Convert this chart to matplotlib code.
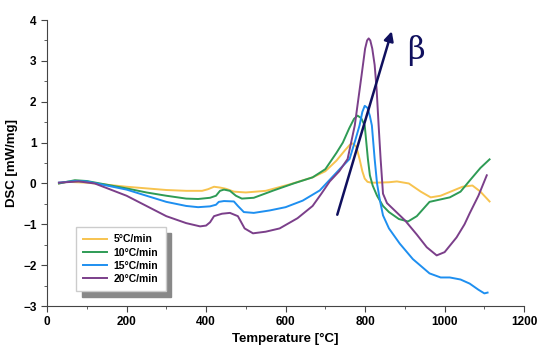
import matplotlib
matplotlib.use("Agg")
import matplotlib.pyplot as plt
from matplotlib.ticker import MultipleLocator

plt.rcParams["font.family"] = ["Liberation Sans", "DejaVu Sans"]

# heating rate series: temperature [°C] and DSC signal [mW/mg]
t5 = [30, 50, 100, 150, 200, 250, 300, 350, 390, 405, 420, 435, 450, 470, 500,
      550, 573, 611, 668, 700, 728, 750, 762, 769, 778, 786, 793, 799, 806,
      815, 830, 860, 880, 910, 940, 965, 990, 1020, 1045, 1070, 1090, 1113]
dsc5 = [0.0, 0.04, 0.02, -0.03, -0.08, -0.12, -0.16, -0.18, -0.18, -0.14, -0.08,
        -0.1, -0.13, -0.2, -0.22, -0.18, -0.12, -0.02, 0.15, 0.3, 0.56, 0.82,
        0.95, 0.98, 0.9, 0.6, 0.3, 0.12, 0.04, 0.02, 0.02, 0.03, 0.05, 0.0,
        -0.2, -0.34, -0.3, -0.18, -0.08, -0.05, -0.2, -0.44]

t10 = [30, 70, 100, 150, 200, 250, 300, 350, 380, 410, 425, 435, 445, 460,
       475, 490, 520, 570, 620, 668, 700, 728, 744, 760, 772, 781, 790, 799,
       807, 812, 819, 830, 845, 860, 885, 908, 930, 962, 1013, 1040, 1063,
       1090, 1113]
dsc10 = [0.0, 0.08, 0.06, -0.03, -0.12, -0.22, -0.3, -0.37, -0.38, -0.35, -0.3,
         -0.18, -0.15, -0.18, -0.3, -0.37, -0.35, -0.17, 0.0, 0.15, 0.35, 0.75,
         1.0, 1.35, 1.58, 1.66, 1.6, 1.42, 0.6, 0.2, -0.05, -0.3, -0.55, -0.7,
         -0.87, -0.93, -0.8, -0.45, -0.34, -0.2, 0.07, 0.38, 0.59]

t15 = [30, 70, 100, 150, 200, 250, 300, 350, 380, 410, 425, 432, 445, 470,
       480, 495, 520, 560, 600, 643, 686, 710, 736, 761, 775, 786, 793, 799,
       806, 812, 817, 824, 830, 837, 845, 860, 887, 920, 962, 990, 1013, 1040,
       1063, 1085, 1100, 1108]
dsc15 = [0.02, 0.06, 0.05, -0.05, -0.15, -0.3, -0.45, -0.55, -0.58, -0.56,
         -0.52, -0.45, -0.43, -0.44, -0.55, -0.7, -0.72, -0.66, -0.58, -0.42,
         -0.17, 0.08, 0.35, 0.6, 1.05, 1.42, 1.75, 1.9, 1.85, 1.65, 1.42, 0.6,
         0.0, -0.4, -0.78, -1.1, -1.47, -1.85, -2.2, -2.3, -2.3, -2.35, -2.45,
         -2.6, -2.69, -2.67]

t20 = [30, 80, 120, 160, 200, 250, 300, 350, 385, 400, 410, 420, 440, 460,
       480, 497, 518, 550, 585, 630, 668, 690, 711, 735, 756, 774, 791, 800,
       805, 809, 813, 818, 824, 829, 834, 839, 845, 855, 870, 900, 930, 955,
       980, 1000, 1030, 1050, 1063, 1085, 1106]
dsc20 = [0.02, 0.05, 0.0, -0.15, -0.3, -0.55, -0.8, -0.97, -1.05, -1.03, -0.95,
         -0.8, -0.74, -0.72, -0.8, -1.1, -1.22, -1.18, -1.1, -0.85, -0.55, -0.25,
         0.05, 0.3, 0.6, 1.42, 2.64, 3.3, 3.5, 3.55, 3.5, 3.3, 2.9, 2.3, 1.42,
         0.6, -0.25, -0.48, -0.62, -0.9, -1.25, -1.56, -1.76, -1.68, -1.32,
         -1.0, -0.73, -0.3, 0.2]

labels = ["5°C/min", "10°C/min", "15°C/min", "20°C/min"]
colors = ["#f7c34f", "#2e9b55", "#1e8ff0", "#7b3f8a"]

fig = plt.figure(figsize=(5.5, 3.51), dpi=100)
ax = fig.add_axes([0.0855, 0.128, 0.8675, 0.815])

for t, d, lab, c in zip([t5, t10, t15, t20], [dsc5, dsc10, dsc15, dsc20], labels, colors):
    ax.plot(t, d, color=c, lw=1.4, label=lab)

# heating-rate arrow
ax.annotate("", xy=(869, 3.79), xytext=(728, -0.83),
            arrowprops=dict(arrowstyle="-|>", color="#10105e", lw=1.8,
                            mutation_scale=14))
ax.text(905, 3.25, "β", fontsize=22, color="#10105e", family="DejaVu Serif",
        ha="left", va="center")

ax.set_xlim(0, 1200)
ax.set_ylim(-3, 4)
ax.xaxis.set_major_locator(MultipleLocator(200))
ax.xaxis.set_minor_locator(MultipleLocator(100))
ax.yaxis.set_major_locator(MultipleLocator(1))
ax.yaxis.set_minor_locator(MultipleLocator(0.5))
for s in ["top", "right"]:
    ax.spines[s].set_visible(False)
for s in ["left", "bottom"]:
    ax.spines[s].set_color("#444444")
ax.tick_params(which="both", direction="out", color="#444444")
ax.tick_params(which="major", length=4, labelsize=8.5)
ax.tick_params(which="minor", length=2.5)
for lbl in ax.get_xticklabels() + ax.get_yticklabels():
    lbl.set_fontweight("bold")

ax.set_xlabel("Temperature [°C]", fontsize=9.5, fontweight="bold", labelpad=3)
ax.set_ylabel("DSC [mW/mg]", fontsize=9.5, fontweight="bold", labelpad=4)

leg = ax.legend(loc="upper left", bbox_to_anchor=(0.061, 0.276), fancybox=False,
                shadow={"color": "#888888", "alpha": 1, "ox": 4, "oy": -4},
                edgecolor="#cccccc", prop={"size": 7.5, "weight": "bold"},
                handlelength=2.3, labelspacing=0.3, borderpad=0.7,
                handletextpad=0.6, borderaxespad=0, framealpha=1)

fig.savefig("out.png", dpi=100)
